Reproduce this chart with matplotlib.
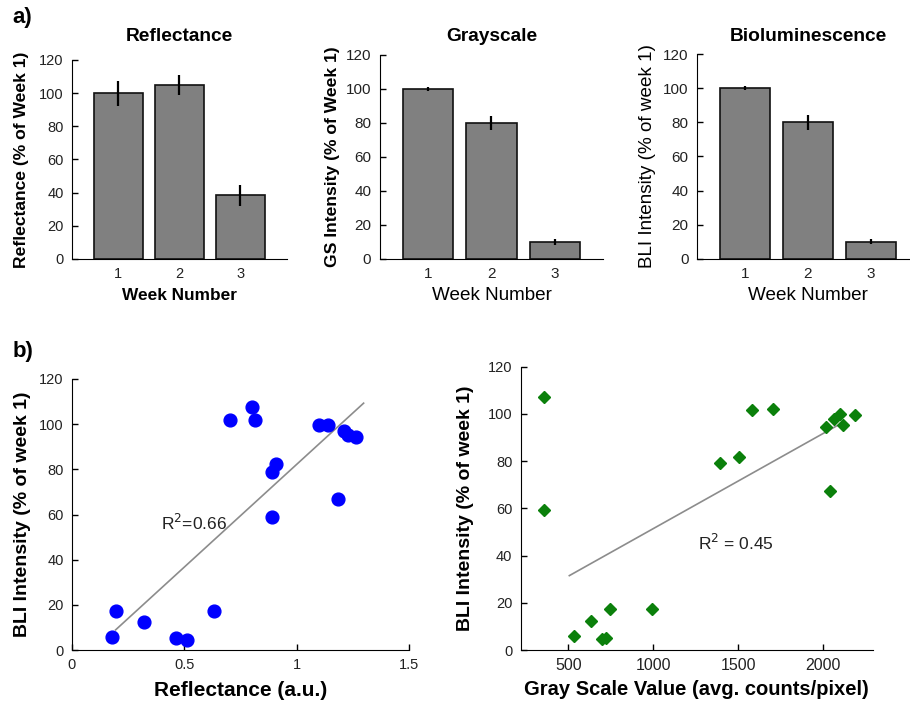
import numpy as np
import matplotlib
matplotlib.use("Agg")
import matplotlib.pyplot as plt

plt.rcParams['font.family'] = ['Liberation Sans', 'DejaVu Sans']

# ---- data: panel a) ----
weeks = [1, 2, 3]
refl_mean = [100, 105, 38.5]
refl_err = [7.5, 6, 6.3]
gs_mean = [100, 80, 10]
gs_err = [1, 4.2, 1.5]
bli_mean = [100, 80, 10]
bli_err = [1, 4.2, 1.5]

# ---- data: panel b) ----
refl_x = [0.176, 0.194, 0.32, 0.461, 0.514, 0.633, 0.705, 0.799, 0.816,
          0.892, 0.907, 0.892, 1.098, 1.138, 1.184, 1.209, 1.227, 1.262]
refl_bli = [5.9, 17.3, 12.5, 5.2, 4.4, 17.3, 101.8, 107.5, 101.8,
            79, 82.2, 59, 99.6, 99.6, 66.9, 97, 95.2, 94.3]
refl_fit_x = [0.194, 1.298]
refl_fit_y = [8.9, 109.3]

gray_x = [359, 359, 533, 632, 700, 720, 745, 994, 1392, 1506, 1579, 1706,
          2013, 2060, 2096, 2113, 2184, 2039]
gray_bli = [107.3, 59.3, 5.9, 12.4, 4.5, 5.2, 17.4, 17.4, 79.1, 81.9, 101.7, 102.1,
            94.4, 97.8, 100, 95.3, 99.5, 67.3]
gray_fit_x = [506, 2080]
gray_fit_y = [31.5, 95]

W, H = 910, 702
fig = plt.figure(figsize=(W / 100, H / 100), dpi=100)


def px_axes(left, bottom, width, height):
    # pixel box (left, bottom-from-top, width, height) -> figure axes
    return fig.add_axes([left / W, 1 - bottom / H, width / W, height / H])


def style_axes(ax, size=10.5):
    ax.spines['top'].set_visible(False)
    ax.spines['right'].set_visible(False)
    ax.tick_params(direction='in', length=4, width=1, labelsize=size,
                   labelcolor='#222222', pad=6)


def bar_panel(ax, means, errs, title, ylabel, ybold, xbold, title_y, ticksize):
    ax.bar(weeks, means, width=0.8, color='#808080', edgecolor='#111111', linewidth=1.2)
    ax.errorbar(weeks, means, yerr=errs, fmt='none', ecolor='black', elinewidth=1.6, capsize=0)
    ax.set_xlim(0.24, 3.76)
    ax.set_ylim(0, 120)
    ax.set_xticks(weeks)
    ax.set_yticks(range(0, 121, 20))
    style_axes(ax, ticksize)
    ax.tick_params(axis='x', length=0)
    ax.text(0.5, title_y, title, transform=ax.transAxes, ha='center', va='center',
            fontsize=13.8, fontweight='bold')
    ax.set_ylabel(ylabel, fontsize=12.6 if ybold else 13.6,
                  fontweight='bold' if ybold else 'normal')
    ax.set_xlabel('Week Number', fontsize=12.4 if xbold else 13.6,
                  fontweight='bold' if xbold else 'normal')
    ax.xaxis.label.set_va('center')
    ax.yaxis.label.set_va('center')


ax1 = px_axes(72, 259, 214.7, 199)
bar_panel(ax1, refl_mean, refl_err, 'Reflectance', 'Reflectance (% of Week 1)', True, True, 1.12, 10.5)
ax1.yaxis.set_label_coords(-0.233, 0.5)
ax1.xaxis.set_label_coords(0.5, -0.181)

ax2 = px_axes(379.7, 259, 223.5, 204)
bar_panel(ax2, gs_mean, gs_err, 'Grayscale', 'GS Intensity (% of Week 1)', True, False, 1.092, 11)
ax2.yaxis.set_label_coords(-0.209, 0.5)
ax2.xaxis.set_label_coords(0.5, -0.177)

ax3 = px_axes(697, 259, 221.8, 205)
bar_panel(ax3, bli_mean, bli_err, 'Bioluminescence', 'BLI Intensity (% of week 1)', False, False, 1.085, 11)
ax3.yaxis.set_label_coords(-0.225, 0.5)
ax3.xaxis.set_label_coords(0.5, -0.176)

# ---- b) left scatter ----
ax4 = px_axes(72, 650, 337, 271)
ax4.plot(refl_fit_x, refl_fit_y, color='#8c8c8c', linewidth=1.2, zorder=1)
ax4.plot(refl_x, refl_bli, 'o', color='#0000ff', markersize=9.2, zorder=2)
ax4.set_xlim(0, 1.5)
ax4.set_ylim(0, 120)
ax4.set_xticks([0, 0.5, 1, 1.5])
ax4.set_xticklabels(['0', '0.5', '1', '1.5'])
ax4.set_yticks(range(0, 121, 20))
style_axes(ax4)
ax4.text(0.542, 56.2, r'R$^2$=0.66', ha='center', va='center', fontsize=12.5, color='#222222')
ax4.set_xlabel('Reflectance (a.u.)', fontsize=15, fontweight='bold')
ax4.set_ylabel('BLI Intensity (% of week 1)', fontsize=14, fontweight='bold')
ax4.xaxis.label.set_va('center')
ax4.yaxis.label.set_va('center')
ax4.xaxis.set_label_coords(0.5, -0.148)
ax4.yaxis.set_label_coords(-0.148, 0.5)

# ---- b) right scatter ----
ax5 = px_axes(520.7, 650, 352, 283.3)
ax5.plot(gray_fit_x, gray_fit_y, color='#8c8c8c', linewidth=1.2, zorder=1)
ax5.plot(gray_x, gray_bli, 'D', color='#0b800b', markersize=6.3, zorder=2)
ax5.set_xlim(220, 2290)
ax5.set_ylim(0, 120)
ax5.set_xticks([500, 1000, 1500, 2000])
ax5.set_yticks(range(0, 121, 20))
style_axes(ax5)
ax5.tick_params(axis='x', labelsize=11.5)
ax5.text(1485, 45.2, r'R$^2$ = 0.45', ha='center', va='center', fontsize=12.5, color='#222222')
ax5.set_xlabel('Gray Scale Value (avg. counts/pixel)', fontsize=14.5, fontweight='bold')
ax5.set_ylabel('BLI Intensity (% of week 1)', fontsize=14, fontweight='bold')
ax5.xaxis.label.set_va('center')
ax5.yaxis.label.set_va('center')
ax5.xaxis.set_label_coords(0.5, -0.141)
ax5.yaxis.set_label_coords(-0.158, 0.5)

fig.text(22 / W, 1 - 17 / H, 'a)', ha='center', va='center', fontsize=16, fontweight='bold')
fig.text(23 / W, 1 - 352 / H, 'b)', ha='center', va='center', fontsize=16, fontweight='bold')

fig.savefig('out.png', dpi=100)
